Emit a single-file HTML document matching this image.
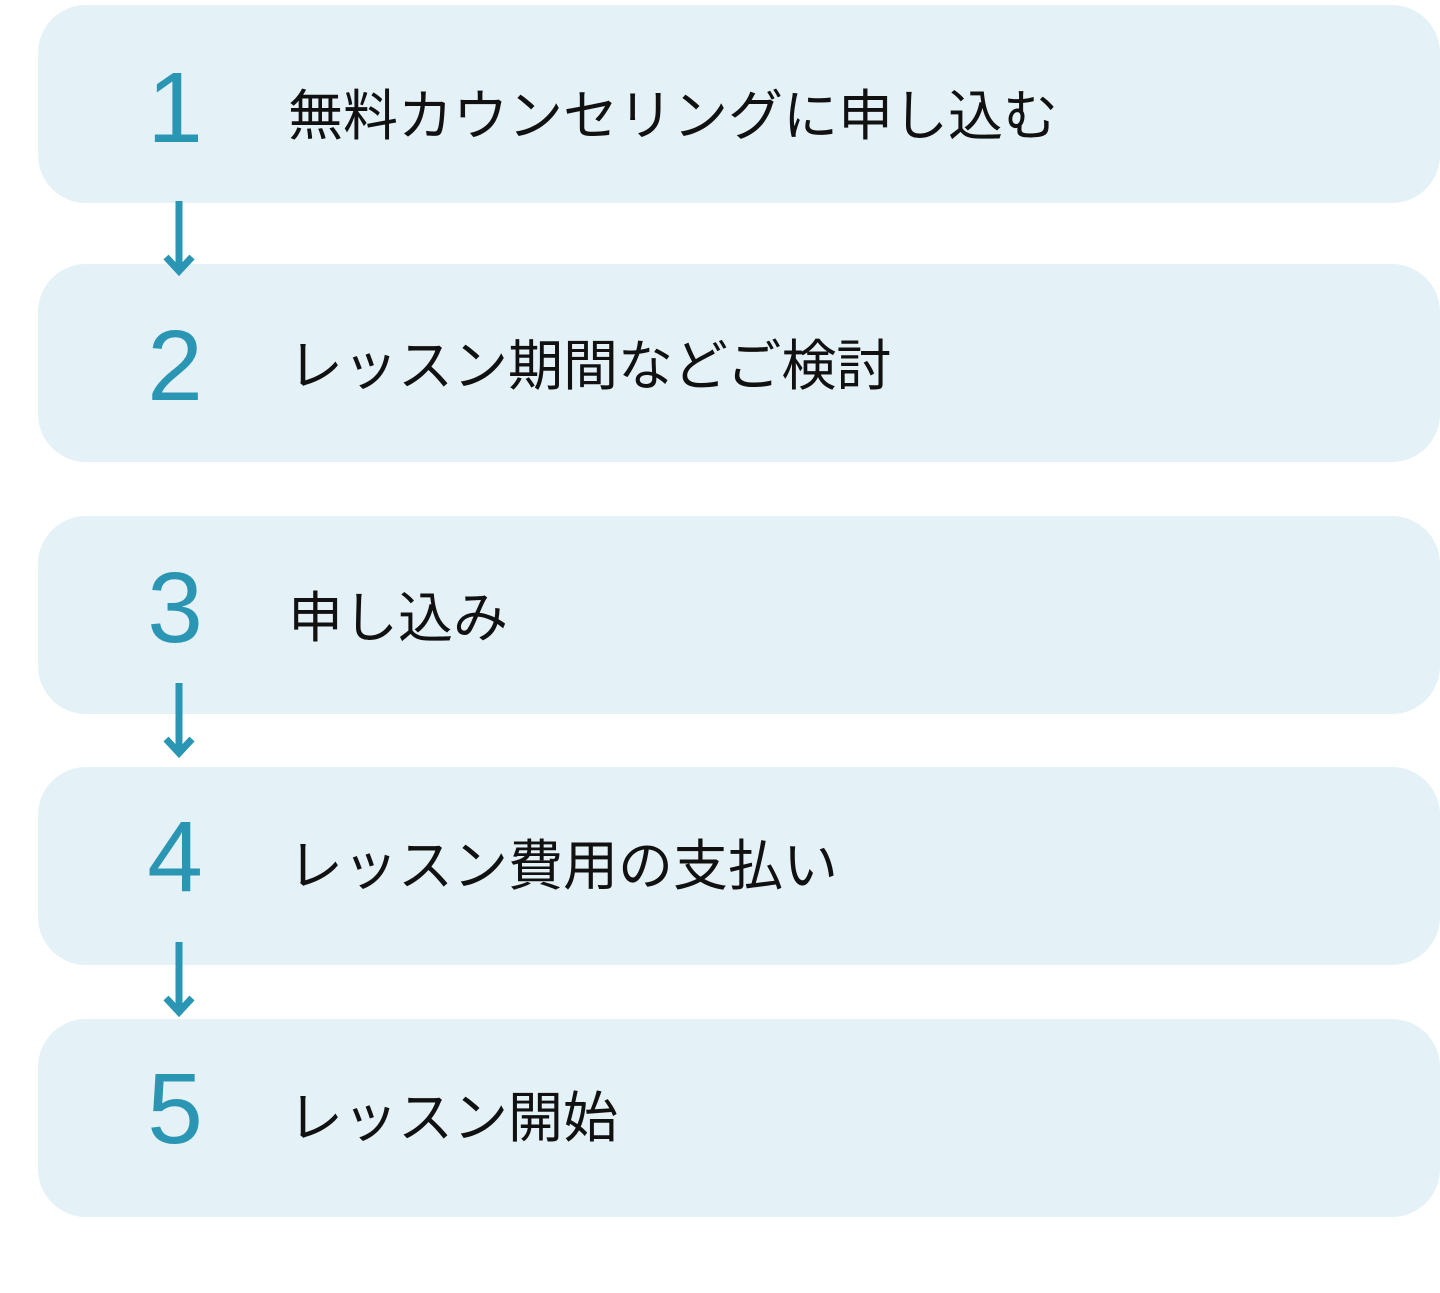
<!DOCTYPE html>
<html><head><meta charset="utf-8"><style>
body{margin:0;width:1440px;height:1293px;background:#fff;position:relative;overflow:hidden;font-family:"Liberation Sans","Noto Sans CJK JP",sans-serif}
.box{position:absolute;left:38px;width:1402px;height:198px;background:#e4f2f7;border-radius:48px}
.num{position:absolute;left:143px;width:64px;text-align:center;font-size:100px;color:#2a96b4;font-weight:300;line-height:1}
.txt{position:absolute;left:288px;font-size:55px;color:#111;line-height:1;font-family:"Noto Sans CJK JP",sans-serif;font-weight:400}
svg{position:absolute;left:0;top:0}
</style></head><body>
<div class="box" style="top:5px"></div>
<div class="box" style="top:264px"></div>
<div class="box" style="top:516px"></div>
<div class="box" style="top:767px"></div>
<div class="box" style="top:1019px"></div>
<div class="num" style="top:58px">1</div>
<div class="num" style="top:316px">2</div>
<div class="num" style="top:558px">3</div>
<div class="num" style="top:807px">4</div>
<div class="num" style="top:1059px">5</div>
<div class="txt" style="top:84px">無料カウンセリングに申し込む</div>
<div class="txt" style="top:334px">レッスン期間などご検討</div>
<div class="txt" style="top:586px">申し込み</div>
<div class="txt" style="top:834px">レッスン費用の支払い</div>
<div class="txt" style="top:1086px">レッスン開始</div>
<svg width="1440" height="1293">
<g stroke="#2a96b4" stroke-width="7" fill="none">
<line x1="179" y1="201" x2="179" y2="268"/><polyline points="166,257 179,271 192,257"/>
<line x1="179" y1="683" x2="179" y2="750"/><polyline points="166,739 179,753 192,739"/>
<line x1="179" y1="942" x2="179" y2="1009"/><polyline points="166,998 179,1012 192,998"/>
</g></svg>
</body></html>
